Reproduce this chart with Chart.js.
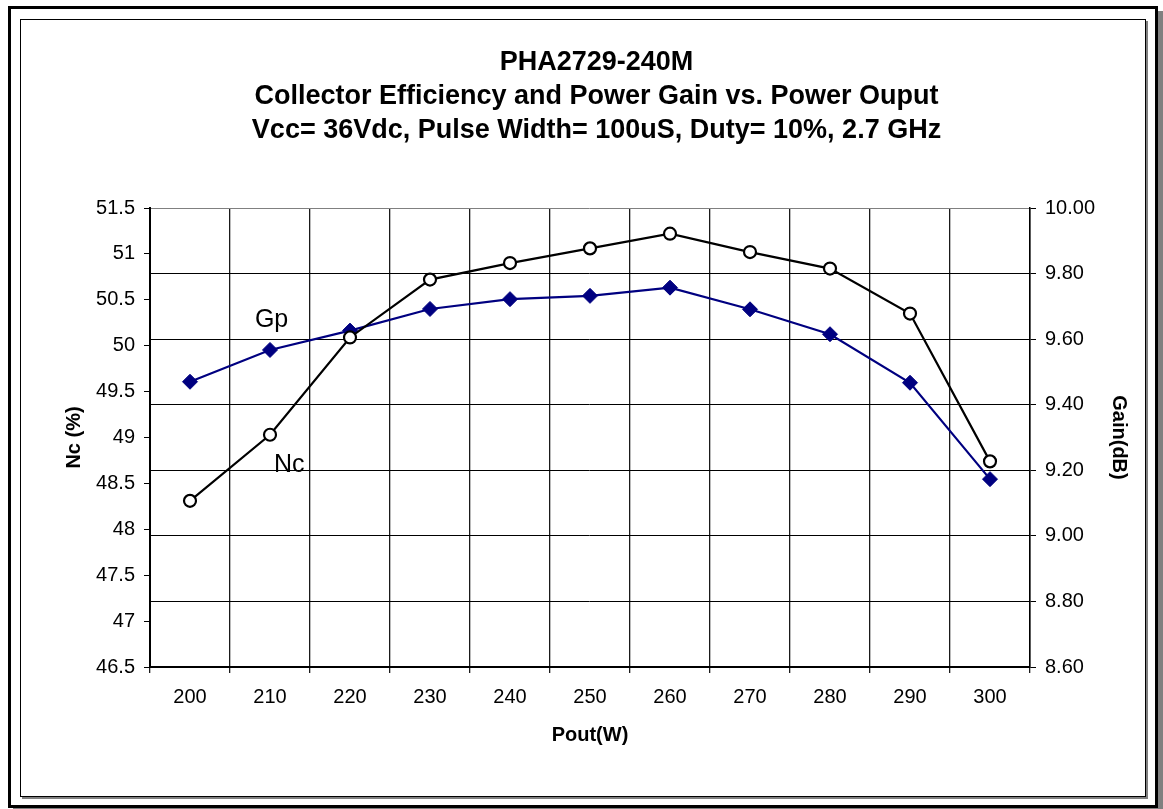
<!DOCTYPE html>
<html>
<head>
<meta charset="utf-8">
<script src="https://cdn.jsdelivr.net/npm/chart.js@4.4.0/dist/chart.umd.min.js"></script>
<style>
  html, body { margin: 0; padding: 0; background: #fff; }
  #wrap { position: relative; width: 1163px; height: 809px; overflow: hidden; }
  .outer { position: absolute; left: 8px; top: 6px; width: 1144px; height: 796px; border: 3px solid #000; box-shadow: 5px 5px 0 #808080; }
  .inner { position: absolute; left: 20px; top: 19px; width: 1124px; height: 776px; border: 1px solid #000; box-shadow: 2px 2px 0 #808080; }
  canvas { position: absolute; left: 0; top: 0; }
</style>
</head>
<body>
<div id="wrap">
  <div class="outer"></div>
  <div class="inner"></div>
  <canvas id="chart" width="1163" height="809"></canvas>
</div>
<script>
// category axis: output power (W)
const poutLabels = ['200', '210', '220', '230', '240', '250', '260', '270', '280', '290', '300'];

// collector efficiency (%) - left axis
const ncValues = [48.31, 49.03, 50.09, 50.72, 50.90, 51.06, 51.22, 51.02, 50.84, 50.35, 48.74];

// power gain (dB) - right axis
const gpValues = [9.470, 9.567, 9.626, 9.692, 9.722, 9.732, 9.757, 9.691, 9.615, 9.467, 9.173];

const titleLines = [
  'PHA2729-240M',
  'Collector Efficiency and Power Gain vs. Power Ouput',
  'Vcc= 36Vdc, Pulse Width= 100uS, Duty= 10%, 2.7 GHz'
];

// series name labels placed in data coordinates
const seriesTags = [
  { text: 'Gp', x: 1.02, y: 9.658, axis: 'y1' },
  { text: 'Nc', x: 1.24, y: 48.70, axis: 'y' }
];

const FONT = 'Arial, "Liberation Sans", sans-serif';

const tagPlugin = {
  id: 'seriesTags',
  afterDatasetsDraw(chart) {
    const ctx = chart.ctx;
    const xs = chart.scales.x;
    ctx.save();
    ctx.font = '25px ' + FONT;
    ctx.fillStyle = '#000';
    ctx.textAlign = 'center';
    ctx.textBaseline = 'middle';
    seriesTags.forEach(t => {
      const px = xs.getPixelForValue(t.x);
      const py = chart.scales[t.axis].getPixelForValue(t.y);
      ctx.fillText(t.text, px, py);
    });
    ctx.restore();
  }
};

new Chart(document.getElementById('chart'), {
  type: 'line',
  data: {
    labels: poutLabels,
    datasets: [
      {
        label: 'Nc',
        data: ncValues,
        yAxisID: 'y',
        borderColor: '#000',
        borderWidth: 2.2,
        pointStyle: 'circle',
        pointRadius: 6,
        pointBorderWidth: 2.2,
        pointBackgroundColor: '#fff',
        pointBorderColor: '#000',
        tension: 0
      },
      {
        label: 'Gp',
        data: gpValues,
        yAxisID: 'y1',
        borderColor: '#000080',
        borderWidth: 2.2,
        pointStyle: 'rectRot',
        pointRadius: 7.5,
        pointBorderWidth: 1,
        pointBackgroundColor: '#000080',
        pointBorderColor: '#000080',
        tension: 0
      }
    ]
  },
  options: {
    responsive: false,
    animation: false,
    layout: { padding: { left: 62, right: 32, top: 0, bottom: 62 } },
    plugins: {
      legend: { display: false },
      tooltip: { enabled: false },
      title: {
        display: true,
        text: titleLines,
        color: '#000',
        font: { family: FONT, size: 27, weight: 'bold', lineHeight: 34 / 27 },
        padding: { top: 46, bottom: 60 }
      }
    },
    scales: {
      x: {
        type: 'category',
        offset: true,
        afterFit(scale) { scale.height = 80; },
        grid: { offset: true, color: '#1a1a1a', lineWidth: 1.3, tickLength: 6, drawOnChartArea: true },
        border: { color: '#000', width: 2 },
        ticks: { color: '#000', font: { family: FONT, size: 20 }, padding: 12, maxRotation: 0 },
        title: { display: true, text: 'Pout(W)', color: '#000', font: { family: FONT, size: 20, weight: 'bold' }, padding: 0 }
      },
      y: {
        position: 'left',
        min: 46.5,
        max: 51.5,
        afterFit(scale) { scale.width = 88; },
        ticks: {
          stepSize: 0.5,
          color: '#000',
          font: { family: FONT, size: 20 },
          padding: 9,
          callback: v => String(Math.round(v * 10) / 10)
        },
        grid: { drawOnChartArea: false, color: '#000', tickLength: 6 },
        border: { color: '#000', width: 2 },
        title: { display: true, text: 'Nc (%)', color: '#000', font: { family: FONT, size: 20, weight: 'bold' }, padding: 0 }
      },
      y1: {
        position: 'right',
        min: 8.6,
        max: 10.0,
        afterFit(scale) { scale.width = 101; },
        ticks: {
          stepSize: 0.2,
          color: '#000',
          font: { family: FONT, size: 20 },
          padding: 9,
          callback: v => Number(v).toFixed(2)
        },
        grid: {
          drawOnChartArea: true,
          tickLength: 6,
          tickColor: '#000',
          color: c => (c.tick && Math.abs(c.tick.value - 10) < 1e-6) ? '#808080' : '#000'
        },
        border: { color: '#000', width: 1.5 },
        title: { display: true, text: 'Gain(dB)', color: '#000', font: { family: FONT, size: 20, weight: 'bold' }, padding: 0 }
      }
    }
  },
  plugins: [tagPlugin]
});
</script>
</body>
</html>
